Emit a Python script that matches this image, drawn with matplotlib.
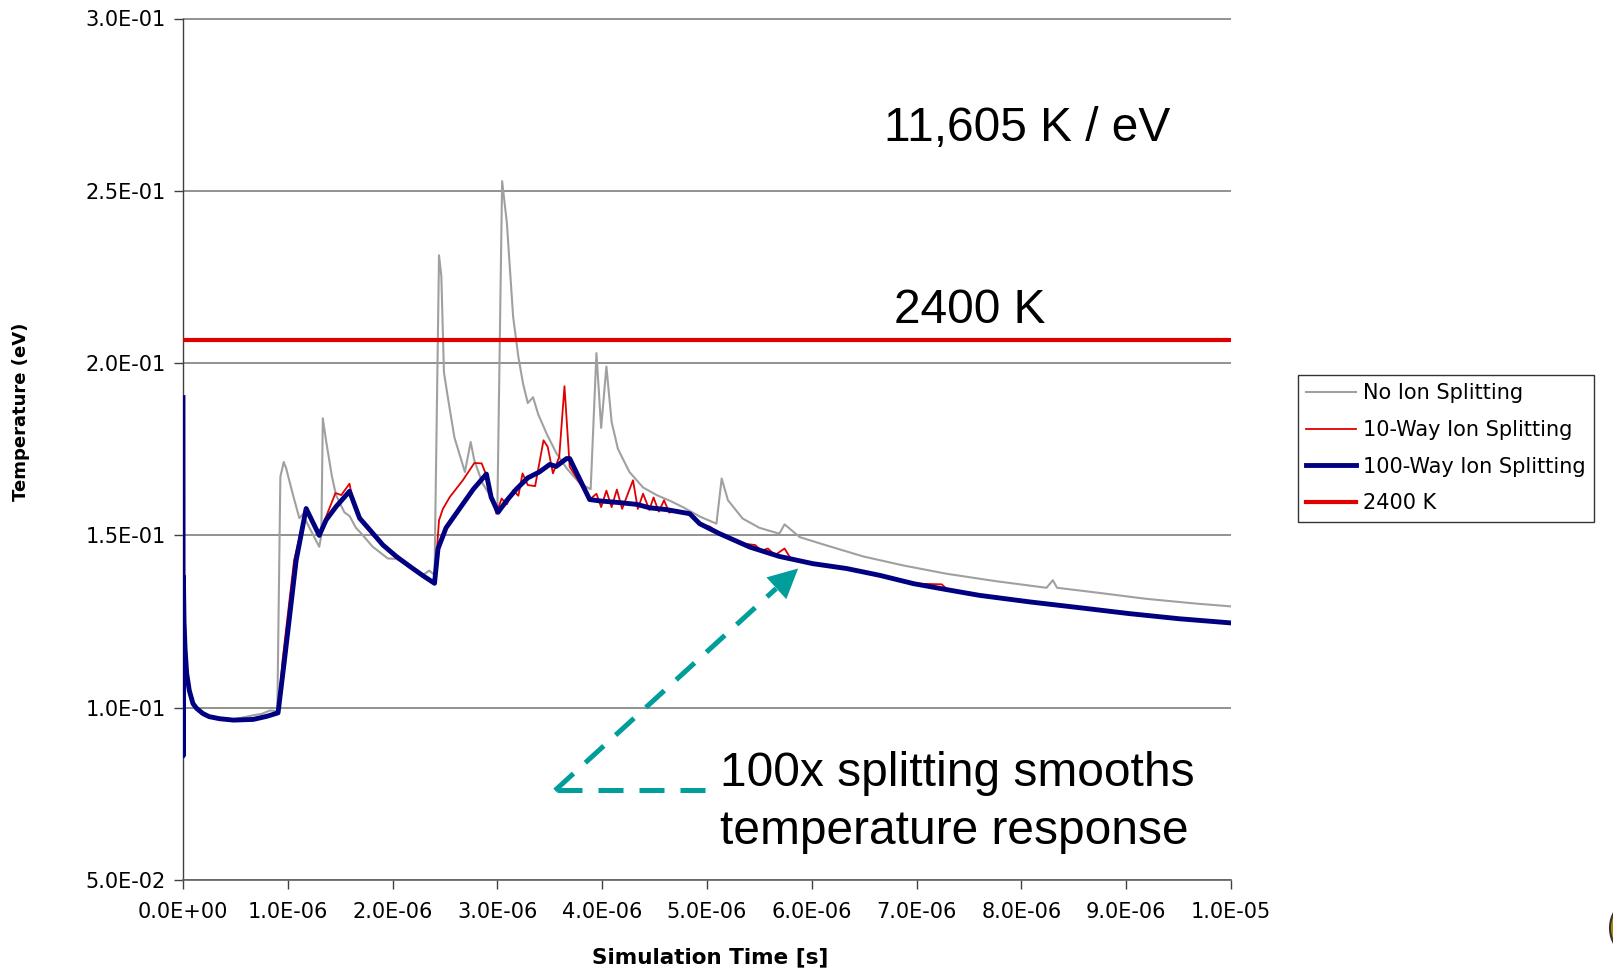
import matplotlib
matplotlib.use("Agg")
import matplotlib.pyplot as plt
import matplotlib.patches as mpatches
from matplotlib.ticker import FuncFormatter, MultipleLocator

# ---------------- data (time in microseconds, temperature in eV) ----------------
gray_t = [0.004, 0.010, 0.020, 0.035, 0.060, 0.095, 0.13, 0.19, 0.25, 0.35, 0.48, 0.58, 0.67,
          0.75, 0.83, 0.90,
          0.929, 0.961, 0.984, 1.05, 1.11, 1.143, 1.207, 1.30, 1.32, 1.334, 1.366, 1.42, 1.46,
          1.54, 1.59, 1.65, 1.70, 1.81, 1.955, 2.035, 2.16, 2.29, 2.35, 2.40, 2.443, 2.465,
          2.49, 2.53, 2.59, 2.69, 2.745, 2.78, 2.86, 2.94, 3.00, 3.045, 3.09, 3.15, 3.20,
          3.245, 3.29, 3.34, 3.39, 3.47, 3.56, 3.66, 3.79, 3.89, 3.945, 3.99, 4.04, 4.09,
          4.15, 4.26, 4.39, 4.52, 4.65, 4.77, 4.93, 5.09, 5.14, 5.20, 5.34, 5.50, 5.69, 5.74,
          5.885, 6.107, 6.49, 6.87, 7.28, 7.76, 8.24, 8.30, 8.34, 8.72, 9.19, 9.67, 10.0]
gray_y = [0.138, 0.125, 0.117, 0.110, 0.105, 0.1012, 0.0998, 0.0983, 0.0974, 0.0968, 0.0966,
          0.0972, 0.0978, 0.0982, 0.0992, 0.0990,
          0.167, 0.1713, 0.1695, 0.1617, 0.155, 0.1561, 0.1522, 0.1467, 0.150,
          0.184, 0.1773, 0.1673, 0.1617, 0.1567, 0.1556, 0.1522, 0.1506, 0.1467, 0.1433,
          0.1432, 0.1411, 0.1385, 0.1398, 0.1385, 0.2313, 0.2252, 0.1973, 0.1895, 0.1784,
          0.1684, 0.1771, 0.1717, 0.165, 0.1611, 0.1585, 0.2528, 0.2408, 0.2135, 0.2018,
          0.194, 0.1884, 0.1901, 0.1851, 0.1795, 0.174, 0.1695, 0.165, 0.1634, 0.2029, 0.1812,
          0.199, 0.1829, 0.1751, 0.1684, 0.1639, 0.1617, 0.160, 0.1582, 0.1555, 0.1534, 0.1665,
          0.1602, 0.1549, 0.1522, 0.1505, 0.1532, 0.1495, 0.1474, 0.1439, 0.1413, 0.1389,
          0.1367, 0.1348, 0.137, 0.1348, 0.1334, 0.1316, 0.1302, 0.1294]

red_t = [0.004, 0.010, 0.020, 0.035, 0.060, 0.095, 0.13, 0.19, 0.25, 0.35, 0.48, 0.67, 0.80,
         0.907, 0.95, 1.06,
         1.175, 1.30, 1.366, 1.455, 1.51, 1.589, 1.62, 1.685, 1.78, 1.908, 2.035, 2.16, 2.29,
         2.40, 2.443, 2.48, 2.545, 2.67, 2.78, 2.85, 2.90, 2.99, 3.04, 3.09, 3.15, 3.20, 3.24,
         3.29, 3.36, 3.44, 3.48, 3.53, 3.59, 3.64, 3.69, 3.75, 3.88, 3.945, 3.99, 4.04, 4.09,
         4.14, 4.19, 4.294, 4.34, 4.39, 4.45, 4.49, 4.54, 4.59, 4.64, 4.71, 4.77, 4.83, 4.93,
         5.03, 5.12, 5.30, 5.46, 5.52, 5.58, 5.65, 5.74, 5.80, 6.01, 6.33, 6.42, 6.65, 6.97,
         7.24, 7.30, 7.60, 8.08, 8.56, 9.03, 9.51, 10.0]
red_y = [0.138, 0.125, 0.117, 0.110, 0.105, 0.1012, 0.0998, 0.0983, 0.0974, 0.0968, 0.0964,
         0.0966, 0.0975, 0.0985, 0.1138, 0.1428,
         0.1578, 0.150, 0.1555, 0.1623, 0.1617, 0.165, 0.1600, 0.155, 0.1517,
         0.1472, 0.1439, 0.1411, 0.1383, 0.1361, 0.1544, 0.1577, 0.1611, 0.166, 0.171, 0.1709,
         0.167, 0.1563, 0.1607, 0.1590, 0.1631, 0.1615, 0.168, 0.1646, 0.1643, 0.1776, 0.1757,
         0.168, 0.1728, 0.1933, 0.1699, 0.167, 0.1604, 0.1621, 0.1582, 0.163, 0.1582, 0.1633,
         0.1577, 0.166, 0.1577, 0.1621, 0.1574, 0.161, 0.1569, 0.1602, 0.1566, 0.1574, 0.1563,
         0.1566, 0.1534, 0.1525, 0.1505, 0.1478, 0.1472, 0.1455, 0.1462, 0.1443, 0.1462,
         0.1432, 0.1418, 0.1404, 0.140, 0.1384, 0.136, 0.1358, 0.1341, 0.1326, 0.1307, 0.129,
         0.1273, 0.1258, 0.1246]

blue_t = [0.0, 0.002, 0.004, 0.010, 0.020, 0.035, 0.060, 0.095, 0.13, 0.19, 0.25, 0.35, 0.48,
          0.67, 0.80, 0.907,
          0.968, 1.08, 1.175, 1.30, 1.366, 1.462, 1.589, 1.685, 1.78, 1.908, 2.035, 2.16, 2.29,
          2.40, 2.433, 2.51, 2.64, 2.77, 2.895, 2.94, 3.006, 3.086, 3.18, 3.29, 3.40, 3.50,
          3.56, 3.66, 3.69, 3.88, 3.98, 4.17, 4.33, 4.455, 4.61, 4.835, 4.93, 5.12, 5.41,
          5.69, 6.01, 6.33, 6.65, 6.97, 7.28, 7.60, 8.08, 8.56, 9.03, 9.51, 10.0]
blue_y = [0.190, 0.086, 0.138, 0.125, 0.117, 0.110, 0.105, 0.1012, 0.0998, 0.0983, 0.0974,
          0.0968, 0.0964, 0.0966, 0.0975, 0.0985,
          0.1138, 0.1428, 0.1578, 0.150, 0.1545, 0.1584, 0.1628, 0.155, 0.1517,
          0.1472, 0.1439, 0.1411, 0.1383, 0.1361, 0.1461, 0.1522, 0.1578, 0.1634, 0.1678,
          0.1611, 0.1567, 0.160, 0.1634, 0.1667, 0.1684, 0.1706, 0.170, 0.1723, 0.1723, 0.1604,
          0.160, 0.1595, 0.1590, 0.1580, 0.1575, 0.1563, 0.1534, 0.1505, 0.1466, 0.1439,
          0.1418, 0.1404, 0.1384, 0.136, 0.1343, 0.1326, 0.1307, 0.129, 0.1273, 0.1258, 0.1246]

limit_K = 2400.0
K_per_eV = 11605.0
limit_eV = limit_K / K_per_eV

series_labels = ["No Ion Splitting", "10-Way Ion Splitting", "100-Way Ion Splitting", "2400 K"]
xlabel = "Simulation Time [s]"
ylabel = "Temperature (eV)"
conv_text = "11,605 K / eV"
limit_text = "2400 K"
note_text = "100x splitting smooths\ntemperature response"

# annotation anchor points (time in us, eV)
arrow_tail = (3.55, 0.0760)
arrow_base = (5.66, 0.1346)
arrow_tip = (5.87, 0.1404)
hline_end = (4.98, 0.0760)

US = 1e-6
C_GRAY = "#a0a0a0"
C_RED = "#e00000"
C_BLUE = "#000080"
C_TEAL = "#009e9a"

fig = plt.figure(figsize=(16.13, 9.71), dpi=100)
ax = fig.add_axes([183 / 1613, 1 - 880 / 971, (1231 - 183) / 1613, (880 - 18.5) / 971])

ax.plot([t * US for t in gray_t], gray_y, color=C_GRAY, lw=1.5, label=series_labels[0], zorder=3)
ax.plot([t * US for t in red_t], red_y, color=C_RED, lw=1.3, label=series_labels[1], zorder=4)
ax.plot([t * US for t in blue_t], blue_y, color=C_BLUE, lw=3.5, label=series_labels[2], zorder=5,
        solid_joinstyle="round")
ax.axhline(limit_eV, color=C_RED, lw=3.0, label=series_labels[3], zorder=6)

ax.set_xlim(0, 10 * US)
ax.set_ylim(0.05, 0.30)
ax.xaxis.set_major_locator(MultipleLocator(1 * US))
ax.yaxis.set_major_locator(MultipleLocator(0.05))
fmt = FuncFormatter(lambda v, p: "%.1E" % v)
ax.xaxis.set_major_formatter(fmt)
ax.yaxis.set_major_formatter(fmt)

ax.grid(axis="y", color="#7f7f7f", lw=1.2, zorder=1)
ax.set_axisbelow(True)
for s in ("top", "right"):
    ax.spines[s].set_visible(False)
ax.spines["left"].set_color("#404040")
ax.spines["bottom"].set_color("#606060")
ax.spines["left"].set_linewidth(1.0)
ax.spines["bottom"].set_linewidth(1.2)
ax.tick_params(axis="both", direction="out", length=6.5, width=1.0, color="#404040",
               labelsize=15, pad=6)
ax.tick_params(axis="x", pad=9)

fig.text(710 / 1613, 1 - 957 / 971, xlabel, ha="center", va="center",
         fontsize=15.5, fontweight="bold")
fig.text(21 / 1613, 1 - 412 / 971, ylabel, ha="center", va="center", rotation=90,
         fontsize=13, fontweight="bold")

big = dict(family="Liberation Sans", fontsize=34.5)
ax.text(8.05 * US, 0.268, conv_text, ha="center", va="center", **big)
ax.text(7.51 * US, 0.2152, limit_text, ha="center", va="center", **big)
ax.text(5.12 * US, 0.0725, note_text, ha="left", va="center", linespacing=1.38, **big)

# dashed teal arrow
ax.plot([hline_end[0] * US, arrow_tail[0] * US], [hline_end[1], arrow_tail[1]],
        color=C_TEAL, lw=3.6, linestyle=(0, (5, 3.2)), solid_capstyle="butt", zorder=7)
ax.plot([arrow_tail[0] * US, arrow_base[0] * US], [arrow_tail[1], arrow_base[1]],
        color=C_TEAL, lw=3.6, linestyle=(0, (5, 3.2)), zorder=7)
ax.annotate("", xy=(arrow_tip[0] * US, arrow_tip[1]),
            xytext=(arrow_base[0] * US, arrow_base[1]),
            arrowprops=dict(arrowstyle="-|>", mutation_scale=53, lw=0, color=C_TEAL,
                            shrinkA=0, shrinkB=0), zorder=8)

leg = ax.legend(loc="upper left", bbox_to_anchor=(1298 / 1613, 1 - 375 / 971),
                bbox_transform=fig.transFigure, borderaxespad=0, fontsize=15,
                frameon=True, fancybox=False, handlelength=2.4, handletextpad=0.3,
                borderpad=0.4, labelspacing=0.8)
leg.get_frame().set_edgecolor("#000000")
leg.get_frame().set_linewidth(1.0)

# small decorative element at the bottom-right corner
fig.patches.append(mpatches.Ellipse((1650 / 1613, 1 - 928 / 971), 80 / 1613, 72 / 971,
                                    transform=fig.transFigure, facecolor="#b8860b",
                                    edgecolor="#333333", lw=1.5))

fig.savefig("out.png", dpi=100)
